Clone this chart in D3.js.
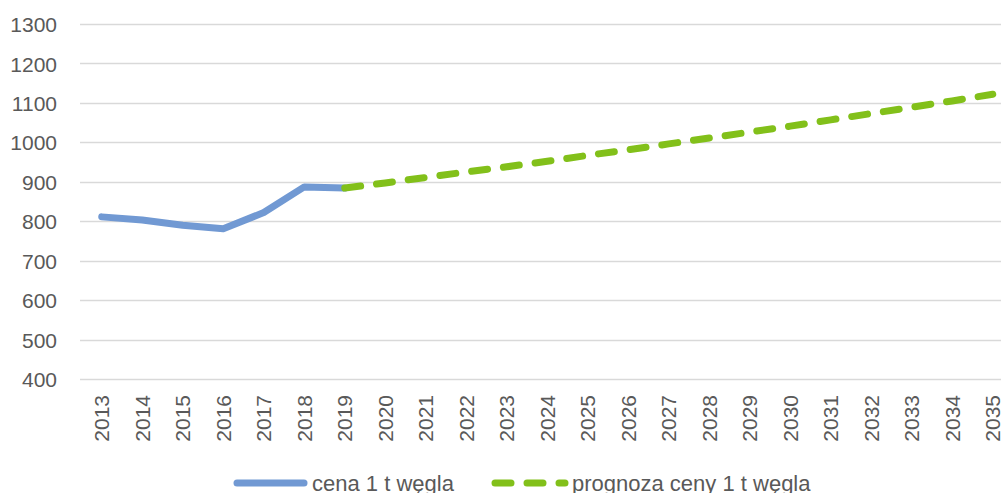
<!DOCTYPE html>
<html>
<head>
<meta charset="utf-8">
<script src="https://cdn.jsdelivr.net/npm/d3@7"></script>
<style>
  body { margin: 0; background: #fff; }
  text { font-family: "Liberation Sans", Arial, sans-serif; fill: #595959; }
</style>
</head>
<body>
<svg id="chart" width="1001" height="493"></svg>
<script>
// data
var years = ['2013','2014','2015','2016','2017','2018','2019','2020','2021','2022','2023','2024',
             '2025','2026','2027','2028','2029','2030','2031','2032','2033','2034','2035'];
var priceYears = ['2013','2014','2015','2016','2017','2018','2019'];
var priceValues = [811, 803, 790, 781, 822, 887, 884];
var forecastYears = ['2019','2020','2021','2022','2023','2024','2025','2026','2027',
                     '2028','2029','2030','2031','2032','2033','2034','2035'];
var forecastValues = [884, 897, 911, 925, 938, 952, 967, 981, 996, 1011, 1026, 1041, 1057, 1073, 1089, 1105, 1122];
var yTicks = [400, 500, 600, 700, 800, 900, 1000, 1100, 1200, 1300];
var legendLabels = ['cena 1 t węgla', 'prognoza ceny 1 t węgla'];

var blue = '#7199d3';
var green = '#82c01a';

var svg = d3.select('#chart');

var sx = d3.scaleBand().domain(years).range([81.5, 1013]);
var sy = d3.scaleLinear().domain([400, 1300]).range([379, 24]);

// gridlines
svg.append('g')
  .selectAll('line')
  .data(yTicks)
  .enter()
  .append('line')
  .attr('x1', 80)
  .attr('x2', 1001)
  .attr('y1', function(d) { return Math.round(sy(d)) + 0.5; })
  .attr('y2', function(d) { return Math.round(sy(d)) + 0.5; })
  .attr('stroke', '#d9d9d9')
  .attr('stroke-width', 1.5);

// y axis labels
var yaxis = d3.axisLeft(sy).tickValues(yTicks).tickSize(0).tickPadding(0).tickFormat(d3.format('d'));
var gy = svg.append('g').attr('transform', 'translate(57,0)').call(yaxis);
gy.select('.domain').remove();
gy.selectAll('text')
  .style('font-size', '21px')
  .attr('fill', '#595959')
  .attr('dy', '0.36em');

// x axis labels (rotated)
var xaxis = d3.axisBottom(sx).tickSize(0).tickPadding(0);
var gx = svg.append('g').attr('transform', 'translate(0,395)').call(xaxis);
gx.select('.domain').remove();
gx.selectAll('text')
  .style('font-size', '21px')
  .attr('fill', '#595959')
  .attr('transform', 'rotate(-90)')
  .attr('text-anchor', 'end')
  .attr('x', 0)
  .attr('y', 0)
  .attr('dy', '0.36em');

function cx(y) { return sx(y) + sx.bandwidth() / 2; }

var line = d3.line()
  .x(function(d) { return cx(d[0]); })
  .y(function(d) { return sy(d[1]); });

svg.append('path')
  .attr('d', line(d3.zip(priceYears, priceValues)))
  .attr('fill', 'none')
  .attr('stroke', blue)
  .attr('stroke-width', 7)
  .attr('stroke-linejoin', 'round')
  .attr('stroke-linecap', 'round');

svg.append('path')
  .attr('d', line(d3.zip(forecastYears, forecastValues)))
  .attr('fill', 'none')
  .attr('stroke', green)
  .attr('stroke-width', 7)
  .attr('stroke-linejoin', 'round')
  .attr('stroke-linecap', 'round')
  .attr('stroke-dasharray', '16,16');

// legend
var lg = svg.append('g');
lg.append('line')
  .attr('x1', 237).attr('x2', 304).attr('y1', 483).attr('y2', 483)
  .attr('stroke', blue).attr('stroke-width', 7).attr('stroke-linecap', 'round');
lg.append('text')
  .attr('x', 312).attr('y', 483).attr('dy', '0.36em')
  .style('font-size', '22px')
  .text(legendLabels[0]);
lg.append('line')
  .attr('x1', 495).attr('x2', 565).attr('y1', 483).attr('y2', 483)
  .attr('stroke', green).attr('stroke-width', 7).attr('stroke-linecap', 'round')
  .attr('stroke-dasharray', '16,16');
lg.append('text')
  .attr('x', 572).attr('y', 483).attr('dy', '0.36em')
  .style('font-size', '22px')
  .text(legendLabels[1]);
</script>
</body>
</html>
